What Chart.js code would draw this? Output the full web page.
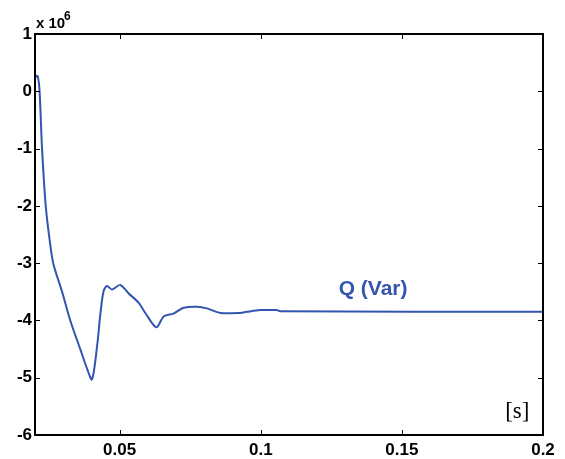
<!DOCTYPE html>
<html lang="en">
<head>
    <meta charset="UTF-8">
    <script src="https://cdn.jsdelivr.net/npm/chart.js"></script>
    <title>Q (Var)</title>
    <style>
        body {
            margin: 0;
            padding: 0;
            background-color: #ffffff;
        }
        canvas {
            display: block;
        }
    </style>
</head>
<body>
    <canvas id="qChart" width="565" height="459"></canvas>

    <script>
        // tempo [s]
        const tempo = [0.0200, 0.0205, 0.0210, 0.0216, 0.0225, 0.0238, 0.0252, 0.0265, 0.0296, 0.0325,
            0.0361, 0.0385, 0.0402, 0.0420, 0.0432, 0.0443, 0.0455, 0.0473, 0.0502, 0.0532,
            0.0567, 0.0591, 0.0630, 0.0656, 0.0691, 0.0727, 0.0774, 0.0809, 0.0857, 0.0927,
            0.0951, 0.0998, 0.1057, 0.1069, 0.2000];
        // potencia reativa x 10^6
        const potenciaQ = [0.22, 0.27, 0.26, 0.02, -1.00, -2.00, -2.60, -3.01, -3.50, -4.00,
            -4.51, -4.85, -5.03, -4.45, -3.87, -3.49, -3.40, -3.46, -3.38, -3.53,
            -3.69, -3.87, -4.12, -3.93, -3.88, -3.78, -3.76, -3.79, -3.87, -3.87,
            -3.85, -3.82, -3.82, -3.84, -3.85];
        const ticksX = [0.05, 0.1, 0.15, 0.2];
        const ticksY = [1, 0, -1, -2, -3, -4, -5, -6];

        const pontos = tempo.map((t, i) => ({ x: t, y: potenciaQ[i] }));

        // caixa, marcas internas e textos
        const moldura = {
            id: 'moldura',
            afterDraw(chart) {
                const ctx = chart.ctx;
                const a = chart.chartArea;
                const sx = chart.scales.x;
                const sy = chart.scales.y;
                ctx.save();
                ctx.strokeStyle = '#000000';
                ctx.lineWidth = 2;
                ctx.strokeRect(a.left, a.top, a.right - a.left, a.bottom - a.top);

                ctx.lineWidth = 1;
                ctx.beginPath();
                ticksX.forEach(v => {
                    const px = Math.round(sx.getPixelForValue(v)) + 0.5;
                    ctx.moveTo(px, a.bottom);
                    ctx.lineTo(px, a.bottom - 5);
                    ctx.moveTo(px, a.top);
                    ctx.lineTo(px, a.top + 5);
                });
                ticksY.forEach(v => {
                    const py = Math.round(sy.getPixelForValue(v)) + 0.5;
                    ctx.moveTo(a.left, py);
                    ctx.lineTo(a.left + 5, py);
                    ctx.moveTo(a.right, py);
                    ctx.lineTo(a.right - 5, py);
                });
                ctx.stroke();

                ctx.fillStyle = '#000000';
                ctx.textAlign = 'left';
                ctx.textBaseline = 'alphabetic';
                ctx.font = 'bold 15px "Liberation Sans", Arial, sans-serif';
                ctx.fillText('x 10', a.left + 1, a.top - 6);
                ctx.font = 'bold 12px "Liberation Sans", Arial, sans-serif';
                ctx.fillText('6', a.left + 29, a.top - 14);

                ctx.fillStyle = '#3355b0';
                ctx.textAlign = 'center';
                ctx.textBaseline = 'middle';
                ctx.font = 'bold 21px "Liberation Sans", Arial, sans-serif';
                ctx.fillText('Q (Var)', sx.getPixelForValue(0.1398), sy.getPixelForValue(-3.45));

                ctx.fillStyle = '#000000';
                ctx.font = '23px "Liberation Serif", "Times New Roman", serif';
                ctx.fillText('[s]', sx.getPixelForValue(0.1909), sy.getPixelForValue(-5.59));
                ctx.restore();
            }
        };

        new Chart(document.getElementById('qChart').getContext('2d'), {
            type: 'line',
            data: {
                datasets: [{
                    label: 'Q (Var)',
                    data: pontos,
                    borderColor: '#3355b0',
                    borderWidth: 2,
                    pointRadius: 0,
                    tension: 0.3,
                    fill: false
                }]
            },
            options: {
                responsive: false,
                animation: false,
                layout: {
                    padding: { top: 34, right: 22, left: 0, bottom: 0 }
                },
                plugins: {
                    legend: { display: false },
                    tooltip: { enabled: false }
                },
                scales: {
                    x: {
                        type: 'linear',
                        min: 0.02,
                        max: 0.2,
                        grid: { display: false, drawTicks: false },
                        border: { display: false },
                        afterBuildTicks: scale => { scale.ticks = ticksX.map(v => ({ value: v })); },
                        afterFit: scale => { scale.height = 24; },
                        ticks: {
                            padding: 5,
                            color: '#000000',
                            font: { family: '"Liberation Sans", Arial, sans-serif', size: 17, weight: 'bold' },
                            callback: v => String(v)
                        }
                    },
                    y: {
                        min: -6,
                        max: 1,
                        grid: { display: false, drawTicks: false },
                        border: { display: false },
                        afterBuildTicks: scale => { scale.ticks = ticksY.map(v => ({ value: v })); },
                        afterFit: scale => { scale.width = 35; },
                        ticks: {
                            padding: 3,
                            color: '#000000',
                            font: { family: '"Liberation Sans", Arial, sans-serif', size: 17, weight: 'bold' },
                            callback: v => String(v)
                        }
                    }
                }
            },
            plugins: [moldura]
        });
    </script>
</body>
</html>
